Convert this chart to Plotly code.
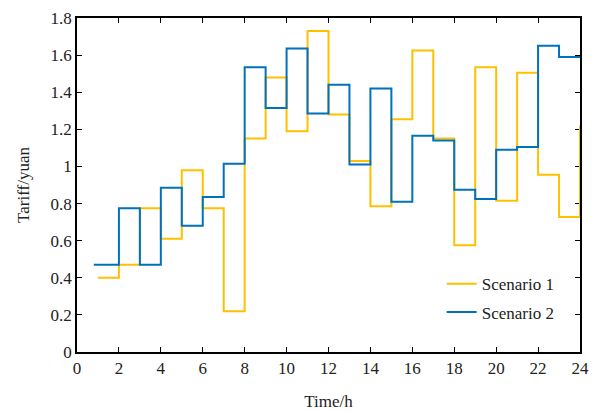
import plotly.graph_objects as go

hours = list(range(1, 25))
scenario1 = [0.40, 0.47, 0.775, 0.61, 0.98, 0.775, 0.22, 1.15, 1.48, 1.19, 1.73, 1.28,
             1.03, 0.785, 1.255, 1.625, 1.15, 0.575, 1.535, 0.815, 1.505, 0.955, 0.727, 1.22]
scenario2_start = 0.8
scenario2 = [0.47, 0.775, 0.47, 0.885, 0.68, 0.835, 1.015, 1.535, 1.315, 1.635, 1.285, 1.44,
             1.01, 1.42, 0.81, 1.165, 1.14, 0.875, 0.825, 1.09, 1.105, 1.65, 1.59, 1.59]
scenario2_x = [scenario2_start] + hours[1:]

x_ticks = list(range(0, 25, 2))
font_family = "Liberation Serif"
text_color = "#222222"

fig = go.Figure()
fig.add_trace(go.Scatter(x=hours, y=scenario1, mode="lines", line_shape="hv",
                         line=dict(color="#FFC000", width=2), name="Scenario 1",
                         legendgroup="a"))
fig.add_trace(go.Scatter(x=scenario2_x, y=scenario2, mode="lines", line_shape="hv",
                         line=dict(color="#0072BD", width=2), name="Scenario 2",
                         legendgroup="b"))

axis_common = dict(showline=True, linecolor="black", linewidth=1.5, mirror="ticks",
                   ticks="inside", ticklen=5, tickwidth=1.2, tickcolor="black",
                   showgrid=False, zeroline=False, automargin=False, layer="below traces",
                   tickfont=dict(family=font_family, size=17, color=text_color))

fig.update_layout(
    width=594, height=412,
    margin=dict(l=77, r=14, t=18, b=60, autoexpand=False),
    paper_bgcolor="white", plot_bgcolor="white",
    font=dict(family=font_family, size=17, color=text_color),
    xaxis=dict(range=[0, 24], tickvals=x_ticks,
               title=dict(text="Time/h", standoff=18, font=dict(family=font_family, size=17)),
               **axis_common),
    yaxis=dict(range=[0, 1.8], dtick=0.2, tick0=0,
               title=dict(text="Tariff/yuan", standoff=17, font=dict(family=font_family, size=17)),
               **axis_common),
    legend=dict(x=0.725, y=0.065, xanchor="left", yanchor="bottom", tracegroupgap=3,
                bgcolor="rgba(0,0,0,0)", font=dict(family=font_family, size=17, color=text_color)),
    showlegend=True,
)

fig.write_html("out.html")
